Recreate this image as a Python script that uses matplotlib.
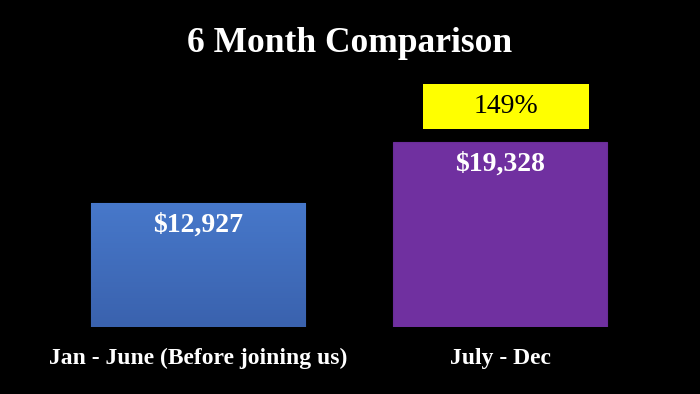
import numpy as np
import matplotlib.pyplot as plt
from matplotlib.colors import LinearSegmentedColormap

categories = ["Jan - June (Before joining us)", "July - Dec"]
values = [12927, 19328]
growth_label = "149%"

plt.rcParams['font.family'] = ['Liberation Serif', 'DejaVu Serif']

fig = plt.figure(figsize=(7, 3.94), dpi=100, facecolor="black")
ax = fig.add_axes([0.067, 0.170, 0.863, 0.617])
ax.set_facecolor("black")

x = np.arange(len(categories))
bars = ax.bar(x, values, width=0.709, color=["#4374C6", "#7030A0"],
              edgecolor=["#3A62A8", "#6A2D99"], linewidth=0.8)

# blue bar gets a soft vertical gradient
b = bars[0]
grad = np.linspace(0, 1, 100).reshape(-1, 1)
cmap = LinearSegmentedColormap.from_list("bl", ["#3A62AE", "#4778CA"])
img = ax.imshow(grad, cmap=cmap, aspect="auto", origin="lower",
                extent=[b.get_x(), b.get_x() + b.get_width(), 0, b.get_height()],
                zorder=b.get_zorder() + 0.1)
img.set_clip_path(b)

ax.set_xlim(-0.5, 1.5)
ax.set_ylim(0, 25388)

for xi, v in zip(x, values):
    ax.text(xi, v - 1000, f"${v:,}", ha="center", va="top", color="white",
            fontsize=20, fontweight="bold", zorder=5)

# yellow growth box above second bar
ax.bar(1.02, 25388 - 20690, bottom=20690, width=0.55, color="#FFFF00", zorder=3)
ax.text(1.02, (20690 + 25388) / 2, growth_label, ha="center", va="center",
        color="black", fontsize=20, zorder=5)

ax.set_xticks(x)
ax.set_xticklabels(categories, color="white", fontsize=17, fontweight="bold")
ax.tick_params(axis="x", length=0, pad=15)
ax.set_yticks([])
for s in ax.spines.values():
    s.set_visible(False)

fig.text(0.5, 0.89, "6 Month Comparison", ha="center", va="center",
         color="white", fontsize=25.5, fontweight="bold")

fig.savefig("out.png", dpi=100, facecolor="black")
